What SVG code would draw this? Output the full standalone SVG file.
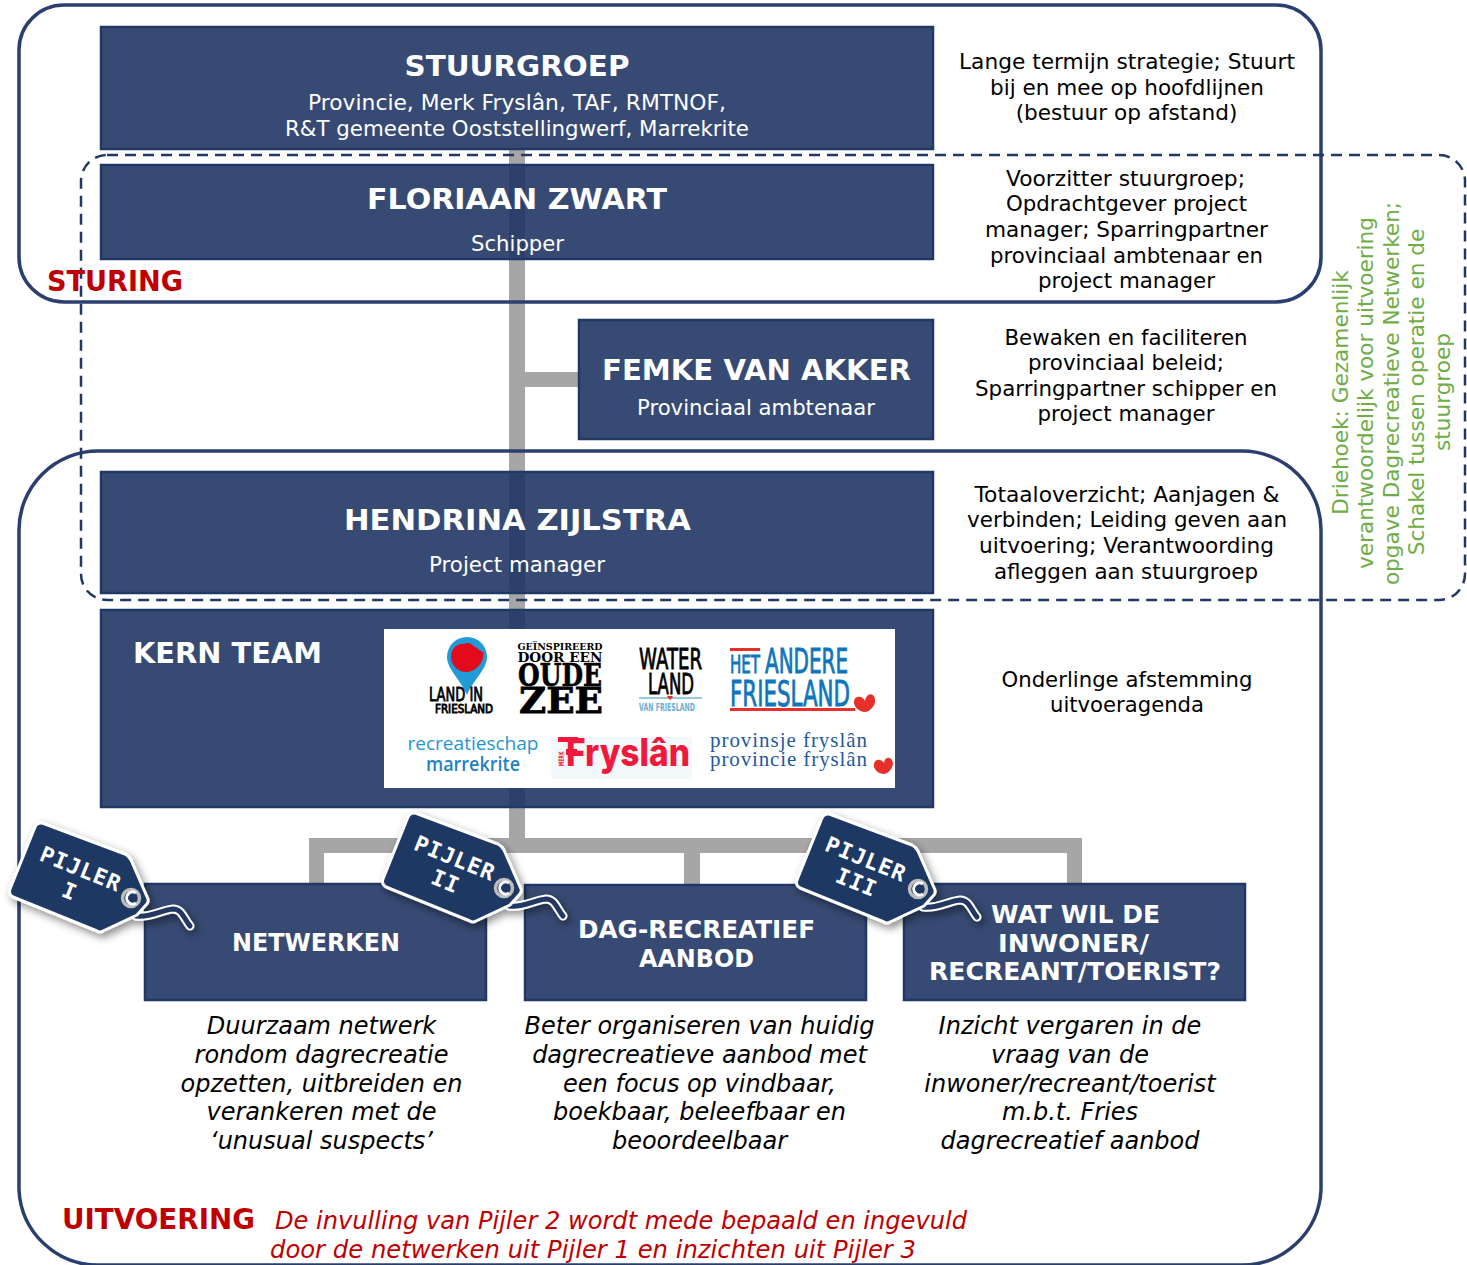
<svg xmlns="http://www.w3.org/2000/svg" width="1467" height="1265" viewBox="0 0 1467 1265">
<style>
text{font-family:"DejaVu Sans","Liberation Sans",sans-serif;text-anchor:middle}
.box{fill:#374a73;stroke:#203864;stroke-width:2.5}
.band{fill:#2d406c}
.frame{fill:none;stroke:#2b3f6f;stroke-width:3.5}
.dash{fill:none;stroke:#203864;stroke-width:2.5;stroke-dasharray:11 7}
.bar{fill:#a6a6a6}
.h1{fill:#fff;font-weight:bold;font-size:29px}
.h2{fill:#fff;font-weight:bold;font-size:25px}
.sub{fill:#fff;font-size:21px}
.note{fill:#000;font-size:21.6px}
.it{fill:#000;font-size:24px;font-style:italic}
.red{fill:#c00000;font-weight:bold}
.redi{fill:#c00000;font-size:24px;font-style:italic;text-anchor:start}
.green{fill:#70ad47;font-size:21.6px}
.tagt{fill:#fff;font-weight:bold;font-size:22px;letter-spacing:1px;font-family:"DejaVu Sans Mono",monospace}
.sq{font-weight:normal;stroke-width:.9}
.slab{font-family:"DejaVu Serif",serif;font-weight:bold;fill:#000}
</style>
<defs>
<filter id="sh" x="-20%" y="-20%" width="150%" height="150%"><feDropShadow dx="3" dy="4" stdDeviation="4" flood-color="#000" flood-opacity="0.45"/></filter>
<g id="tag" filter="url(#sh)">
<path d="M923 907C938 909 948 901 960 900C969 900 971 910 977 917" fill="none" stroke="#fff" stroke-width="9" stroke-linecap="round"/>
<path d="M923 907C938 909 948 901 960 900C969 900 971 910 977 917" fill="none" stroke="#203864" stroke-width="5" stroke-linecap="round"/>
<path d="M832 815L912 845Q916 847 918 851L935 890Q936 893 933 896L924 906L890 922Q887 924 884 922L800 888Q795 885 797 880L822 818Q825 812 832 815Z" fill="#1f3864" stroke="#fff" stroke-width="3" stroke-linejoin="round"/>
<circle cx="918" cy="889" r="8.5" fill="none" stroke="#bdbdbd" stroke-width="3.5"/>
<path d="M923 884A6 6 0 1 0 923 894" fill="none" stroke="#fff" stroke-width="3"/>
</g>
</defs>
<g id="connectors">
<rect class="bar" x="509" y="148" width="16" height="692"/>
<rect class="bar" x="525" y="372" width="55" height="15"/>
<path class="bar" d="M309 838H1082V884H1067V853H700V884H684V853H324V884H309Z"/>
</g>
<rect x="19" y="5" width="1302" height="297" rx="45" class="frame"/>
<path d="M19 1190V530A79 79 0 0 1 98 451H1242A79 79 0 0 1 1321 530V1190A79 79 0 0 1 1242 1265H98A79 79 0 0 1 19 1190Z" class="frame"/>
<rect x="81" y="155" width="1384" height="445" rx="26" class="dash"/>
<g id="stuurgroep"><rect class="box" x="101" y="27" width="832" height="122"/>
<text class="h1" x="517" y="76" textLength="225" lengthAdjust="spacingAndGlyphs">STUURGROEP</text>
<text class="sub" x="517" y="110" textLength="418" lengthAdjust="spacingAndGlyphs">Provincie, Merk Fryslân, TAF, RMTNOF,</text>
<text class="sub" x="517" y="136" textLength="464" lengthAdjust="spacingAndGlyphs">R&amp;T gemeente Ooststellingwerf, Marrekrite</text></g>
<g id="floriaan"><rect class="box" x="101" y="165" width="832" height="94"/><rect class="band" x="509" y="166.500" width="16" height="91"/>
<text class="h1" x="517" y="209" textLength="300" lengthAdjust="spacingAndGlyphs">FLORIAAN ZWART</text>
<text class="sub" x="517.500" y="251" textLength="93" lengthAdjust="spacingAndGlyphs">Schipper</text></g>
<g id="femke"><rect class="box" x="579" y="320" width="354" height="119"/>
<text class="h1" x="756.500" y="380" textLength="309" lengthAdjust="spacingAndGlyphs">FEMKE VAN AKKER</text>
<text class="sub" x="756" y="415" textLength="238" lengthAdjust="spacingAndGlyphs">Provinciaal ambtenaar</text></g>
<g id="hendrina"><rect class="box" x="101" y="472" width="832" height="121"/><rect class="band" x="509" y="473.500" width="16" height="118"/>
<text class="h1" x="517.500" y="530" textLength="347" lengthAdjust="spacingAndGlyphs">HENDRINA ZIJLSTRA</text>
<text class="sub" x="517" y="572" textLength="176" lengthAdjust="spacingAndGlyphs">Project manager</text></g>
<g id="kernteam"><rect class="box" x="101" y="610" width="832" height="197"/><rect class="band" x="509" y="611.500" width="16" height="194"/>
<text class="h1" x="227.500" y="663" textLength="189" lengthAdjust="spacingAndGlyphs">KERN TEAM</text>
<rect x="384" y="629" width="511" height="159" fill="#fff"/>
<path d="M467 637a20 20 0 0 1 20 20c0 12-13 22-20 38c-7-16-20-26-20-38a20 20 0 0 1 20-20z" fill="#1f9bd7"/>
<path d="M464 644c6-4 12 5 19 8c2 10-7 20-17 20c-9 0-15-8-15-15c0-9 7-14 13-13z" fill="#e30a1c"/>
<text x="456" y="701" font-size="19" class="sq" fill="#000" stroke="#000" textLength="54" lengthAdjust="spacingAndGlyphs">LAND IN</text>
<text x="464" y="713" font-size="12" class="sq" fill="#000" stroke="#000" textLength="58" lengthAdjust="spacingAndGlyphs">FRIESLAND</text>
<text x="560" y="650" font-size="10" class="slab" textLength="85" lengthAdjust="spacingAndGlyphs">GEÏNSPIREERD</text>
<text x="560" y="662" font-size="13" class="slab" textLength="85" lengthAdjust="spacingAndGlyphs">DOOR EEN</text>
<text x="560" y="686" font-size="31" class="slab" stroke="#000" stroke-width=".6" textLength="84" lengthAdjust="spacingAndGlyphs">OUDE</text>
<text x="561" y="713" font-size="35" class="slab" stroke="#000" stroke-width=".8" textLength="84" lengthAdjust="spacingAndGlyphs">ZEE</text>
<text x="670.500" y="669" font-size="28" class="sq" fill="#000" stroke="#000" textLength="63" lengthAdjust="spacingAndGlyphs">WATER</text>
<text x="671" y="694" font-size="28" class="sq" fill="#000" stroke="#000" textLength="46" lengthAdjust="spacingAndGlyphs">LAND</text>
<path d="M639 698H702" stroke="#79b5d9" stroke-width="1.500"/>
<path d="M670 700l-3-3q1-2 3-1q2-1 3 1z" fill="#e8302a"/>
<text x="667" y="711" font-size="11" font-weight="bold" fill="#6aaed6" textLength="56" lengthAdjust="spacingAndGlyphs">VAN FRIESLAND</text>
<path d="M730 649.500H760" stroke="#e8302a" stroke-width="3"/>
<text x="745" y="673" font-size="24" class="sq" fill="#0f75bc" stroke="#0f75bc" textLength="30" lengthAdjust="spacingAndGlyphs">HET</text>
<text x="806.500" y="673" font-size="34" class="sq" fill="#0f75bc" stroke="#0f75bc" textLength="83" lengthAdjust="spacingAndGlyphs">ANDERE</text>
<text x="790" y="706" font-size="35" class="sq" fill="#0f75bc" stroke="#0f75bc" textLength="120" lengthAdjust="spacingAndGlyphs">FRIESLAND</text>
<path d="M730 709.500H855" stroke="#e8302a" stroke-width="3"/>
<path d="M865 701c2-10 11-8 10 1c-1 6-7 10-10 10c-6 0-12-6-11-11c1-6 9-5 11 0z" fill="#e8302a"/>
<text x="473" y="750" font-size="19" fill="#1f94d2" style="font-family:'Open Sans',sans-serif" textLength="131" lengthAdjust="spacingAndGlyphs">recreatieschap</text>
<text x="473" y="771" font-size="19" font-weight="600" fill="#1f82c4" style="font-family:'Open Sans',sans-serif" textLength="94" lengthAdjust="spacingAndGlyphs">marrekrite</text>
<rect x="551" y="737" width="141" height="42" fill="#f3f8fb"/>
<path d="M558 737H578V742H558ZM566 749H577V755H566Z" fill="#f0193c"/>
<text transform="translate(564 759) rotate(-90)" font-size="7.500" font-weight="bold" fill="#f0193c" textLength="15" lengthAdjust="spacingAndGlyphs">MERK</text>
<text x="628" y="766" font-size="38" font-weight="800" fill="#f0193c" style="font-family:Inter,'Liberation Sans',sans-serif" textLength="124" lengthAdjust="spacingAndGlyphs">Fryslân</text>
<text x="788.500" y="747" font-size="21" fill="#1e5aa0" style="font-family:'Liberation Serif',serif" textLength="157" lengthAdjust="spacing">provinsje fryslân</text>
<text x="788.500" y="766" font-size="21" fill="#1e5aa0" style="font-family:'Liberation Serif',serif" textLength="157" lengthAdjust="spacing">provincie fryslân</text>
<path d="M884 763c1-8 9-6 9 1c-1 6-6 10-9 10c-6 0-11-5-10-10c1-6 8-5 10-1z" fill="#e8302a"/></g>
<g id="netwerken"><rect class="box" x="145" y="884" width="341" height="116"/>
<text class="h2" x="316" y="951" textLength="168" lengthAdjust="spacingAndGlyphs">NETWERKEN</text></g>
<g id="aanbod"><rect class="box" x="525" y="885" width="341" height="115"/>
<text class="h2" x="696.500" y="938" textLength="237" lengthAdjust="spacingAndGlyphs">DAG-RECREATIEF</text><text class="h2" x="696.500" y="967" textLength="115" lengthAdjust="spacingAndGlyphs">AANBOD</text></g>
<g id="wat"><rect class="box" x="904" y="884" width="341" height="116"/>
<text class="h2" x="1075.500" y="923" textLength="169" lengthAdjust="spacingAndGlyphs">WAT WIL DE</text><text class="h2" x="1073.500" y="952" textLength="151" lengthAdjust="spacingAndGlyphs">INWONER/</text><text class="h2" x="1075" y="980" textLength="292" lengthAdjust="spacingAndGlyphs">RECREANT/TOERIST?</text></g>
<g id="pijler1"><use href="#tag" x="-787" y="9"/><text class="tagt" transform="translate(75 878) rotate(22)"><tspan x="2" y="-3">PIJLER</tspan><tspan x="0" y="22">I</tspan></text></g>
<g id="pijler2"><use href="#tag" x="-414" y="-1"/><text class="tagt" transform="translate(451 868) rotate(22)"><tspan x="0" y="-3">PIJLER</tspan><tspan x="0" y="22">II</tspan></text></g>
<g id="pijler3"><use href="#tag"/><text class="tagt" transform="translate(862 869) rotate(22)"><tspan x="0" y="-3">PIJLER</tspan><tspan x="0" y="22">III</tspan></text></g>
<g id="notes">
<text class="note" x="1127" y="69" textLength="336" lengthAdjust="spacingAndGlyphs">Lange termijn strategie; Stuurt</text>
<text class="note" x="1127" y="95" textLength="274" lengthAdjust="spacingAndGlyphs">bij en mee op hoofdlijnen</text>
<text class="note" x="1126.500" y="120">(bestuur op afstand)</text>
<text class="note" x="1125.500" y="186" textLength="239" lengthAdjust="spacingAndGlyphs">Voorzitter stuurgroep;</text>
<text class="note" x="1126.500" y="211" textLength="241" lengthAdjust="spacingAndGlyphs">Opdrachtgever project</text>
<text class="note" x="1126.500" y="237" textLength="283" lengthAdjust="spacingAndGlyphs">manager; Sparringpartner</text>
<text class="note" x="1126.500" y="263" textLength="273" lengthAdjust="spacingAndGlyphs">provinciaal ambtenaar en</text>
<text class="note" x="1126.500" y="288" textLength="177" lengthAdjust="spacingAndGlyphs">project manager</text>
<text class="note" x="1126" y="345" textLength="243" lengthAdjust="spacingAndGlyphs">Bewaken en faciliteren</text>
<text class="note" x="1126" y="370" textLength="196" lengthAdjust="spacingAndGlyphs">provinciaal beleid;</text>
<text class="note" x="1126" y="396" textLength="302" lengthAdjust="spacingAndGlyphs">Sparringpartner schipper en</text>
<text class="note" x="1126" y="421" textLength="177" lengthAdjust="spacingAndGlyphs">project manager</text>
<text class="note" x="1127" y="502" textLength="305" lengthAdjust="spacingAndGlyphs">Totaaloverzicht; Aanjagen &amp;</text>
<text class="note" x="1127" y="527" textLength="320" lengthAdjust="spacingAndGlyphs">verbinden; Leiding geven aan</text>
<text class="note" x="1126.500" y="553" textLength="295" lengthAdjust="spacingAndGlyphs">uitvoering; Verantwoording</text>
<text class="note" x="1126" y="579" textLength="264" lengthAdjust="spacingAndGlyphs">afleggen aan stuurgroep</text>
<text class="note" x="1127" y="687" textLength="251" lengthAdjust="spacingAndGlyphs">Onderlinge afstemming</text>
<text class="note" x="1127" y="712" textLength="154" lengthAdjust="spacingAndGlyphs">uitvoeragenda</text>
</g>
<g id="descriptions">
<text class="it" x="321.500" y="1034">Duurzaam netwerk</text>
<text class="it" x="321.500" y="1063">rondom dagrecreatie</text>
<text class="it" x="321.500" y="1092">opzetten, uitbreiden en</text>
<text class="it" x="321.500" y="1120">verankeren met de</text>
<text class="it" x="321.500" y="1149">‘unusual suspects’</text>
<text class="it" x="699.500" y="1034">Beter organiseren van huidig</text>
<text class="it" x="699.500" y="1063">dagrecreatieve aanbod met</text>
<text class="it" x="699.500" y="1092">een focus op vindbaar,</text>
<text class="it" x="699.500" y="1120">boekbaar, beleefbaar en</text>
<text class="it" x="699.500" y="1149">beoordeelbaar</text>
<text class="it" x="1070" y="1034">Inzicht vergaren in de</text>
<text class="it" x="1070" y="1063">vraag van de</text>
<text class="it" x="1070" y="1092">inwoner/recreant/toerist</text>
<text class="it" x="1070" y="1120">m.b.t. Fries</text>
<text class="it" x="1070" y="1149">dagrecreatief aanbod</text>
</g>
<text class="red" x="115" y="291" font-size="28" textLength="136" lengthAdjust="spacingAndGlyphs">STURING</text>
<text class="red" x="158.500" y="1229" font-size="28" textLength="193" lengthAdjust="spacingAndGlyphs">UITVOERING</text>
<text class="redi" x="275" y="1229" textLength="692" lengthAdjust="spacingAndGlyphs">De invulling van Pijler 2 wordt mede bepaald en ingevuld</text>
<text class="redi" x="270" y="1258" textLength="646" lengthAdjust="spacingAndGlyphs">door de netwerken uit Pijler 1 en inzichten uit Pijler 3</text>
<g id="driehoek">
<text class="green" transform="translate(1348 392.500) rotate(-90)">Driehoek: Gezamenlijk</text>
<text class="green" transform="translate(1373 393) rotate(-90)">verantwoordelijk voor uitvoering</text>
<text class="green" transform="translate(1399 393.500) rotate(-90)">opgave Dagrecreatieve Netwerken;</text>
<text class="green" transform="translate(1424 392) rotate(-90)">Schakel tussen operatie en de</text>
<text class="green" transform="translate(1450 392) rotate(-90)">stuurgroep</text>
</g>
</svg>
